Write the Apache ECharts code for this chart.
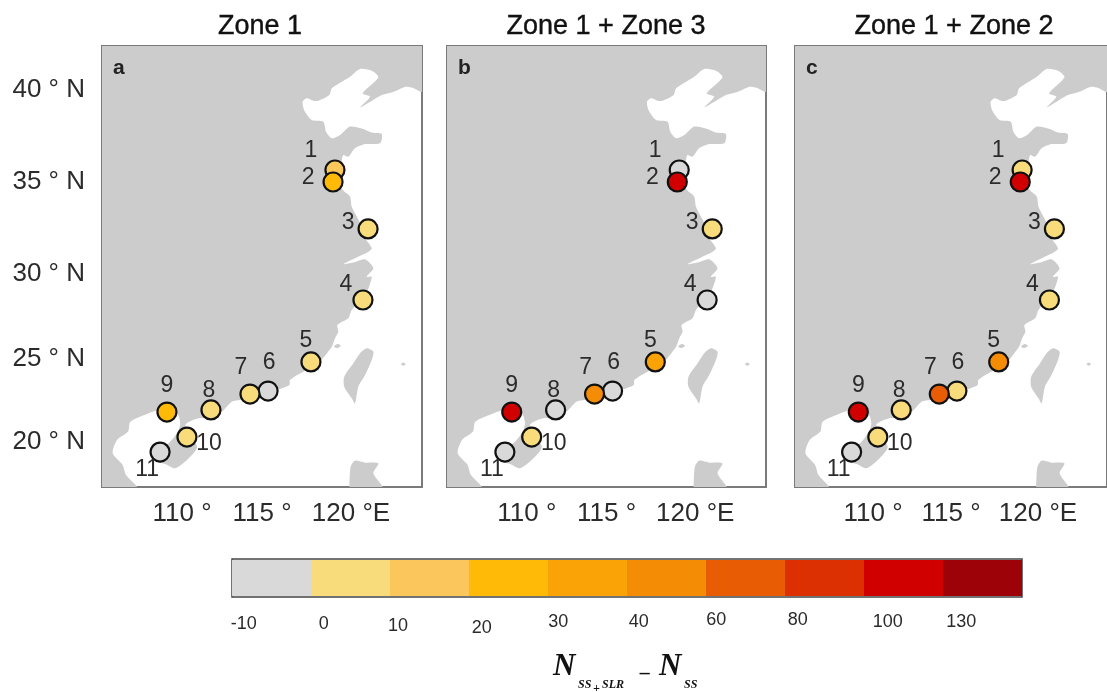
<!DOCTYPE html>
<html><head><meta charset="utf-8">
<style>html,body{margin:0;padding:0;background:#fff}#c{width:1107px;height:692px}</style>
<script src="https://cdn.jsdelivr.net/npm/echarts@6/dist/echarts.min.js"></script>
</head><body><div id="c"></div>
<script>
const stationIds = ['1','2','3','4','5','6','7','8','9','10','11'];
const stationLon = [119.56,119.44,121.63,121.31,118.06,115.38,114.25,111.81,109.06,110.31,108.63];
const stationLat = [35.47,34.79,32.13,28.10,24.59,22.94,22.77,21.87,21.75,20.33,19.48];
const zone1 = [15,25,5,5,5,-5,5,5,25,5,-5];
const zone13 = [-5,110,5,-5,35,-5,50,-5,110,5,-5];
const zone12 = [5,110,5,5,50,5,70,5,110,5,-5];
const panelTitles = ['Zone 1','Zone 1 + Zone 3','Zone 1 + Zone 2'];
const panelLetters = ['a','b','c'];
const binBreaks = [-10,0,10,20,30,40,60,80,100,130];
const binColors = ['#d9d9d9','#f8dc7c','#fbc75c','#ffba08','#faa307','#f48c06','#e85d04','#dc2f02','#d00000','#9d0208'];
const mainland = [[128,46],[128,39.75],[125,39.89],[124.44,40.12],[123.94,40.18],[123.19,39.89],[122.5,39.72],[121.75,39.33],[121.13,39.03],[121.75,39.63],[121.29,39.82],[122.27,40.73],[121.86,41.10],[121.13,41.20],[120.5,40.76],[119.88,40.42],[119.36,40.10],[119.21,39.72],[118.52,39.40],[118.21,39.40],[117.79,39.54],[117.54,39.34],[117.63,38.87],[118.11,38.30],[118.83,38.21],[119.0,37.64],[119.36,37.27],[119.88,37.45],[120.5,37.93],[121.23,37.83],[121.86,37.59],[122.48,37.51],[122.38,36.98],[121.44,36.94],[120.81,36.70],[120.39,36.22],[120.08,36.32],[119.98,35.94],[119.98,34.43],[120.5,33.96],[120.61,33.39],[121.13,32.47],[121.44,31.62],[121.86,31.03],[121.54,30.78],[120.81,30.47],[120.08,30.13],[120.71,30.22],[121.44,30.41],[121.96,29.90],[121.54,29.42],[121.86,29.42],[121.54,28.57],[120.61,27.54],[120.39,27.06],[119.71,26.68],[119.77,26.30],[119.56,25.93],[119.36,25.45],[118.73,24.70],[118.42,24.32],[117.58,24.04],[116.75,23.57],[116.71,23.28],[115.92,23.0],[113.64,22.43],[113.13,22.34],[112.61,21.87],[111.88,21.41],[111.04,21.40],[110.21,21.02],[110.94,19.78],[110.42,19.13],[109.58,18.56],[108.96,18.80],[108.44,18.93],[108.02,19.50],[109.17,19.98],[109.75,20.64],[109.89,21.11],[109.75,21.58],[109.17,21.83],[108.54,21.87],[107.81,21.64],[106.77,21.20],[106.63,20.64],[105.94,20.16],[105.67,19.41],[106.29,18.75],[106.5,18.18],[107.19,17.5],[107.9,16],[102,14],[102,46]];
const taiwan = [[121.54,25.36],[121.96,25.17],[121.86,24.70],[121.44,23.85],[121.02,23.19],[120.81,22.24],[120.61,22.53],[120.14,23.19],[120.14,23.75],[120.71,24.51],[121.13,25.08]];
const penghu = [[119.5,25.47],[119.75,25.6],[119.92,25.5],[119.7,25.38]];
const yonaguni = [[123.68,24.47],[123.83,24.56],[123.98,24.47],[123.83,24.38]];
const luzon = [[120.4,16],[120.46,17.5],[120.54,18.65],[120.81,18.99],[121.44,18.88],[122.27,18.84],[121.96,18.28],[122.54,17.5],[123,16]];
const latTicks = [40,35,30,25,20];
const lonTicks = [110,115,120];
const binLabelPos = [0.15,1.16,2.10,3.16,4.13,5.15,6.13,7.16,8.30,9.23];

const FONT = '"Liberation Sans", Arial, sans-serif';
const TXT = '#2b2b2b';
const landParts = [mainland,taiwan,penghu,yonaguni,luzon];
const panelValues = [zone1,zone13,zone12];
const panelLeft = [102,447,795];
const panelWidth = [320,319,320];
const panelCenter = [260,606,954];
// pixel offsets of the number labels from their markers
const labelOffset = [[-24,-19],[-25,-4],[-20,-6],[-17,-15],[-5,-21],[1,-28],[-9,-26],[-2,-19],[0,-26],[22,7],[-13,18]];
// small drift of tick labels as hand-placed in the source figure
const latDrift = {40:0,35:4,30:7,25:4,20:-1};
const barDrift = [2,2,3,4,1,1,0,-1,1,1];

function colorOf(v){let k=0;for(let i=0;i<binBreaks.length;i++){if(v>=binBreaks[i])k=i;}return binColors[k];}

const grids=[],xAxes=[],yAxes=[],series=[],titles=[];
panelValues.forEach((vals,p)=>{
  grids.push({left:panelLeft[p],top:46,width:panelWidth[p],height:441,show:true,borderColor:'#7a7a7a',borderWidth:2,backgroundColor:'#fff'});
  xAxes.push({gridIndex:p,type:'value',min:105,max:125,splitLine:{show:false},axisLine:{show:false},axisTick:{show:false},
    axisLabel:{customValues:lonTicks,margin:14,
      formatter:v=>v===120?'{e|120 °E}':'{n|'+v+' °}',
      rich:{n:{fontFamily:FONT,fontSize:26,color:TXT},e:{fontFamily:FONT,fontSize:26,color:TXT,padding:[0,0,0,18]}}}});
  yAxes.push({gridIndex:p,type:'value',min:17.5,max:42.5,splitLine:{show:false},axisLine:{show:false},axisTick:{show:false},
    axisLabel:p===0?{customValues:latTicks,margin:17,
      formatter:v=>'{d'+v+'|'+v+' ° N}',
      rich:Object.fromEntries(latTicks.map(v=>['d'+v,{fontFamily:FONT,fontSize:26,color:TXT,padding:latDrift[v]>=0?[latDrift[v]*2,0,0,0]:[0,0,-latDrift[v]*2,0]}]))}
      :{show:false}});
  series.push({type:'custom',xAxisIndex:p,yAxisIndex:p,silent:true,clip:true,z:1,
    data:landParts.map((part,i)=>[part[0][0],part[0][1],i]),
    renderItem:(params,api)=>({type:'polygon',
      shape:{points:landParts[params.dataIndex].map(c=>api.coord(c)),smooth:0.25},
      style:{fill:'#cccccc'}}),
    animation:false});
  series.push({type:'scatter',xAxisIndex:p,yAxisIndex:p,z:5,symbol:'circle',symbolSize:19,animation:false,
    data:stationIds.map((id,i)=>({value:[stationLon[i],stationLat[i],vals[i]],name:id,
      itemStyle:{color:colorOf(vals[i]),borderColor:'#111',borderWidth:2.2,opacity:1},
      label:{show:true,position:'inside',formatter:id,offset:labelOffset[i],fontFamily:FONT,fontSize:23,color:TXT}}))});
  titles.push({text:panelTitles[p],left:panelCenter[p]-5,top:8,textAlign:'center',textStyle:{fontFamily:FONT,fontSize:27,fontWeight:'normal',color:'#111',textBorderColor:'#111',textBorderWidth:0.4}});
  titles.push({text:panelLetters[p],left:panelLeft[p]+6,top:53,textStyle:{fontFamily:FONT,fontSize:21,fontWeight:'bold',color:'#222'}});
});

// colour bar
grids.push({left:232,top:559,width:790,height:38,show:true,borderColor:'#444',borderWidth:1.5,backgroundColor:'#fff'});
xAxes.push({gridIndex:3,type:'value',min:0,max:10,splitLine:{show:false},axisLine:{show:false},axisTick:{show:false},
  axisLabel:{customValues:binLabelPos,margin:14,
    formatter:(v,i)=>{const k=binLabelPos.indexOf(v);return '{b'+k+'|'+binBreaks[k]+'}';},
    rich:Object.fromEntries(binBreaks.map((_,k)=>['b'+k,{fontFamily:FONT,fontSize:18,color:TXT,padding:[barDrift[k]>=0?barDrift[k]*2:0,0,barDrift[k]<0?-barDrift[k]*2:0,0]}]))}});
yAxes.push({gridIndex:3,type:'category',data:['bar'],axisLine:{show:false},axisTick:{show:false},axisLabel:{show:false}});
binColors.forEach((c,k)=>{
  series.push({type:'bar',xAxisIndex:3,yAxisIndex:3,stack:'scale',barWidth:36,silent:true,animation:false,z:3,
    name:String(binBreaks[k]),data:[1],itemStyle:{color:c}});
});

const serif='"Liberation Serif", serif';
function fTxt(text,x,y,size,extra){return Object.assign({type:'text',x,y,silent:true,style:{text,fontFamily:serif,fontStyle:'italic',fontWeight:'bold',fontSize:size,fill:'#111',verticalAlign:'middle',align:'left'}},extra||{});}
const chart=echarts.init(document.getElementById('c'),null,{renderer:'canvas'});
chart.setOption({animation:false,backgroundColor:'#fff',title:titles,grid:grids,xAxis:xAxes,yAxis:yAxes,series,
  tooltip:{show:false},
  graphic:[fTxt('N',553,667,31),fTxt('SS',578,685,12),fTxt('+',593,689,12),fTxt('SLR',602,685,12),
           fTxt('_',641,666,20),fTxt('N',659,667,31),fTxt('SS',684,685,12)]});
</script></body></html>
